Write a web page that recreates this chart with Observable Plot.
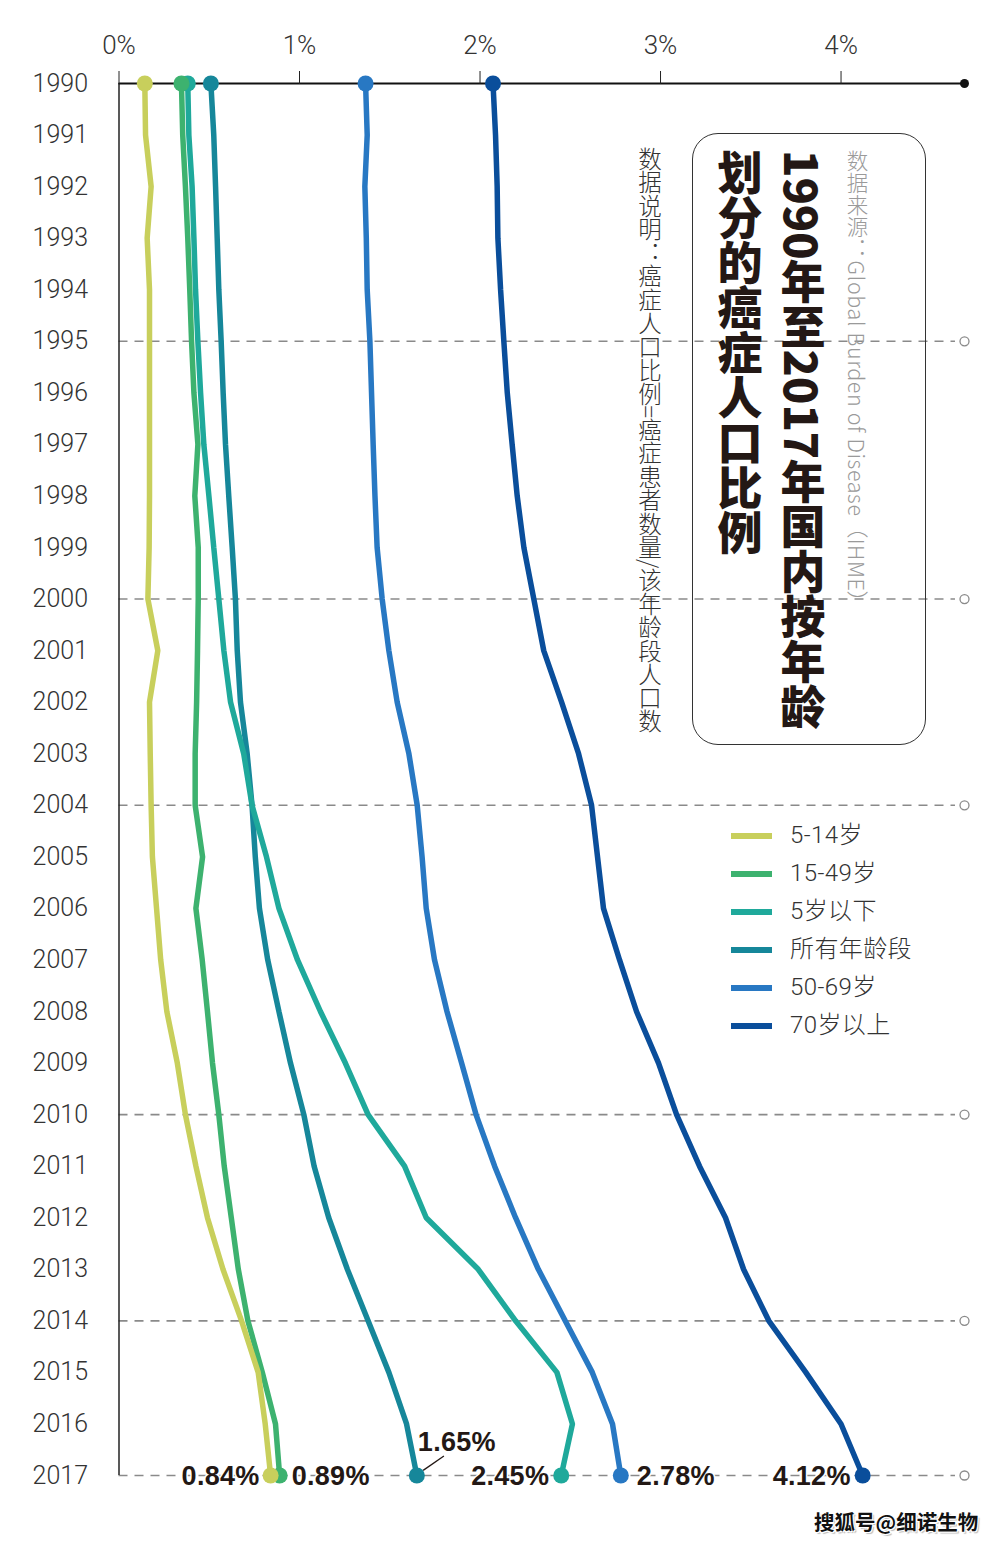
<!DOCTYPE html>
<html><head><meta charset="utf-8">
<script src="https://cdn.jsdelivr.net/npm/d3@7"></script>
<script src="https://cdn.jsdelivr.net/npm/@observablehq/plot@0.6"></script>
<style>
body{margin:0;background:#fff;}
#wrap{position:relative;width:1000px;height:1541px;overflow:hidden;font-family:Roboto,"Noto Sans CJK SC",sans-serif;}
#chart{position:absolute;left:0;top:0;}
.vt{position:absolute;writing-mode:vertical-rl;text-orientation:mixed;white-space:nowrap;}
.box{position:absolute;left:692px;top:133px;width:234px;height:612px;border:1.5px solid #333;border-radius:26px;box-sizing:border-box;}
.title{right:165.5px;top:150px;font-family:"Noto Sans CJK SC",sans-serif;font-size:45px;font-weight:900;line-height:63px;color:#231815;}
.source{left:845px;top:150px;font-family:"Noto Sans CJK SC",sans-serif;font-size:21.5px;font-weight:300;line-height:24px;color:#9a9a9a;letter-spacing:0.6px;}
.note{left:636px;top:147px;font-family:"Noto Sans CJK SC",sans-serif;font-size:23.5px;font-weight:300;line-height:28px;color:#333;}
.lg-line{position:absolute;left:731px;width:41px;height:6px;}
.lg-text{position:absolute;left:790px;font-size:24px;line-height:28px;color:#333;font-weight:300;font-family:Roboto,"Noto Sans CJK SC",sans-serif;letter-spacing:0.4px;}
.wm{position:absolute;left:814px;top:1506px;font-family:"Noto Sans CJK SC",sans-serif;font-weight:700;font-size:20.5px;color:#111;
  text-shadow:1px 1px 0 #fff,-1px -1px 0 #fff,1px -1px 0 #fff,-1px 1px 0 #fff, 2px 2px 1px #bbb;}
</style>
</head><body>
<div id="wrap"><div id="chart"></div></div>
<script>
// ---- data ----
const years = [1990,1991,1992,1993,1994,1995,1996,1997,1998,1999,2000,2001,2002,2003,2004,2005,2006,2007,2008,2009,2010,2011,2012,2013,2014,2015,2016,2017];
const seriesNames = ["5-14岁","15-49岁","5岁以下","所有年龄段","50-69岁","70岁以上"];
const seriesColors = ["#c8cf5c","#3db26f","#1fa99b","#16879a","#2878c3","#0a4e9b"];
const age5to14 = [0.143,0.147,0.178,0.156,0.169,0.169,0.169,0.169,0.169,0.167,0.160,0.215,0.169,0.173,0.178,0.185,0.208,0.231,0.265,0.323,0.368,0.426,0.490,0.576,0.679,0.771,0.81,0.84];
const age15to49 = [0.346,0.353,0.368,0.381,0.392,0.402,0.415,0.437,0.42,0.439,0.439,0.435,0.43,0.422,0.422,0.463,0.426,0.461,0.49,0.518,0.553,0.583,0.622,0.661,0.714,0.794,0.867,0.89];
const under5 = [0.381,0.387,0.405,0.415,0.424,0.437,0.452,0.47,0.498,0.525,0.553,0.581,0.618,0.691,0.737,0.817,0.886,0.989,1.116,1.254,1.38,1.582,1.702,1.99,2.197,2.426,2.512,2.45];
const allAges = [0.509,0.525,0.535,0.544,0.553,0.566,0.577,0.59,0.608,0.627,0.645,0.655,0.673,0.71,0.737,0.755,0.778,0.824,0.886,0.95,1.024,1.081,1.162,1.265,1.38,1.495,1.593,1.65];
const age50to69 = [1.366,1.375,1.362,1.37,1.375,1.39,1.399,1.408,1.418,1.43,1.458,1.495,1.541,1.606,1.652,1.679,1.702,1.748,1.817,1.898,1.978,2.081,2.197,2.323,2.472,2.622,2.734,2.78];
const age70plus = [2.072,2.086,2.095,2.099,2.114,2.132,2.151,2.178,2.206,2.243,2.298,2.353,2.452,2.546,2.618,2.651,2.684,2.773,2.867,2.989,3.089,3.216,3.36,3.46,3.6,3.805,4.0,4.12];
const xTicks = [0,1,2,3,4];
const gridYears = [1995,2000,2004,2010,2014,2017];
const endLabels = ["0.84%","0.89%","2.45%","1.65%","2.78%","4.12%"];

// ---- build table ----
const valuesBySeries = [age5to14, age15to49, under5, allAges, age50to69, age70plus];
const rows = [];
seriesNames.forEach((s, i) => years.forEach((y, j) => rows.push({series: s, year: y, value: valuesBySeries[i][j], order: i})));
const drawRows = rows.slice().sort((a, b) => b.order - a.order);
const ends = drawRows.filter(d => d.year === years[0] || d.year === years[years.length - 1]);
const lasts = seriesNames.map((s, i) => ({series: s, year: years[years.length - 1], value: valuesBySeries[i][years.length - 1], label: endLabels[i]}));

// label placement (style, not data)
const place = {
  "5-14岁": {anchor: "end", dx: -11, dy: 1},
  "15-49岁": {anchor: "start", dx: 12, dy: 1},
  "5岁以下": {anchor: "end", dx: -12, dy: 1},
  "所有年龄段": {anchor: "start", dx: 1, dy: -33},
  "50-69岁": {anchor: "start", dx: 16, dy: 1},
  "70岁以上": {anchor: "end", dx: -12, dy: 1}
};

const xMax = 4.684;
const chart = Plot.plot({
  width: 1000,
  height: 1541,
  marginLeft: 118.5,
  marginRight: 36,
  marginTop: 83,
  marginBottom: 66,
  style: {fontFamily: "Roboto, 'Noto Sans', sans-serif", fontWeight: 300, color: "#333", background: "transparent"},
  x: {domain: [0, xMax]},
  y: {domain: [2017, 1990]},
  color: {domain: seriesNames, range: seriesColors},
  marks: [
    Plot.ruleY(gridYears, {x1: 0, x2: 4.634, stroke: "#8a8a8a", strokeWidth: 1.6, strokeDasharray: "9,7"}),
    Plot.dot(gridYears, {x: () => xMax, y: d => d, r: 4.5, stroke: "#8a8a8a", strokeWidth: 1.3, fill: "white"}),
    Plot.ruleX([0], {y1: 1990, y2: 2017, stroke: "#222", strokeWidth: 1.5}),
    Plot.ruleY([1990], {x1: 0, x2: xMax, stroke: "#111", strokeWidth: 2}),
    Plot.dot([1990], {x: () => xMax, y: d => d, r: 4.5, fill: "#111"}),
    Plot.axisX({anchor: "top", ticks: xTicks, tickFormat: d => d + "%", tickSize: 13, tickPadding: 17, fontSize: 26, label: null, stroke: "#222"}),
    Plot.axisY({anchor: "left", ticks: years, tickFormat: d => String(d), tickSize: 0, tickPadding: 31, fontSize: 25, label: null}),
    Plot.line(drawRows, {x: "value", y: "year", z: "series", stroke: "series", strokeWidth: 5.5, strokeLinejoin: "miter", strokeLinecap: "butt"}),
    Plot.dot(ends, {x: "value", y: "year", fill: "series", r: 8}),
    Plot.link(lasts.filter(d => d.series === "所有年龄段"), {
      x1: d => d.value + 0.035, y1: d => d.year - 0.1,
      x2: d => d.value + 0.15, y2: d => d.year - 0.38,
      stroke: "#231815", strokeWidth: 1.3
    }),
    Plot.text(lasts, {
      x: "value", y: "year", text: "label",
      fontSize: 27, fontWeight: "bold", fill: "#231815",
      fontFamily: "'Liberation Sans', Arial, sans-serif",
      stroke: "white", strokeWidth: 3, paintOrder: "stroke"
    })
  ]
});
document.getElementById("chart").appendChild(chart);

// apply per-label offsets (the text mark's anchor varies per series)
d3.select(chart).selectAll("text").filter(function() { return endLabels.includes(this.textContent); })
  .each(function() {
    const i = endLabels.indexOf(this.textContent);
    const p = place[seriesNames[i]];
    const t = d3.select(this);
    t.attr("text-anchor", p.anchor === "end" ? "end" : "start");
    t.attr("dx", p.dx).attr("dy", p.dy).style("letter-spacing", "0.3px");
  });

// ---- overlays: title box, note, legend, watermark ----
const wrap = document.getElementById("wrap");
function add(cls, html, style) {
  const el = document.createElement("div");
  el.className = cls;
  el.innerHTML = html;
  if (style) Object.assign(el.style, style);
  wrap.appendChild(el);
  return el;
}
add("box", "");
add("vt title", "1990年至2017年国内按年龄<br>划分的癌症人口比例");
add("vt source", "数据来源：Global Burden of Disease（IHME）");
add("vt note", "数据说明：癌症人口比例=癌症患者数量/该年龄段人口数");
seriesNames.forEach((s, i) => {
  const y = 836 + i * 38;
  add("lg-line", "", {top: (y - 3) + "px", background: seriesColors[i]});
  add("lg-text", s, {top: (y - 15) + "px"});
});
add("wm", "搜狐号@细诺生物");
</script>
</body></html>
